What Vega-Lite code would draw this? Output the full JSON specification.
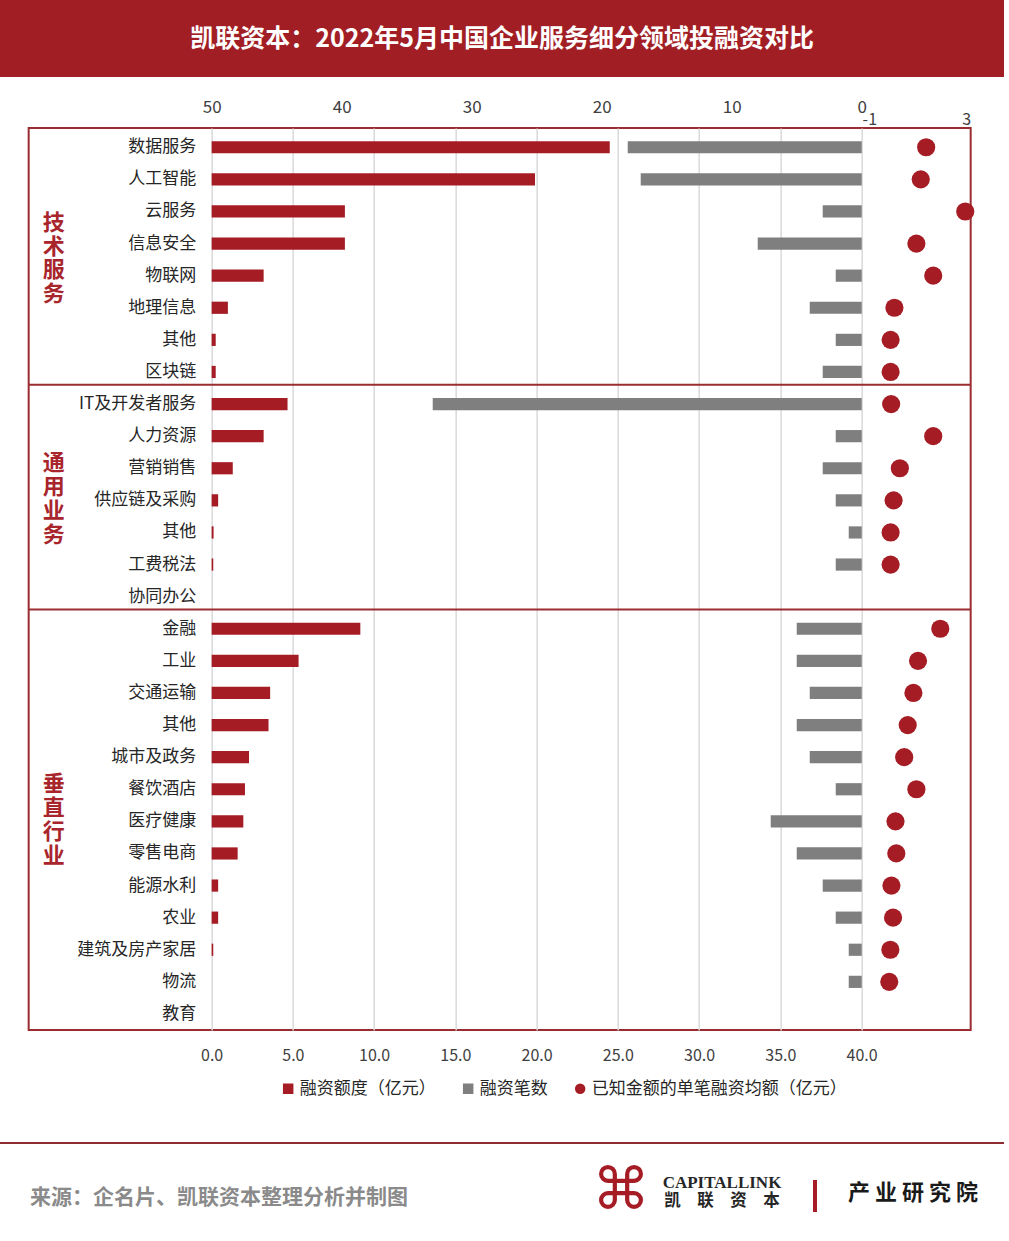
{
"$schema": "https://vega.github.io/schema/vega-lite/v6.json",
"padding": 0,
"background": "#ffffff",
"config": {"font": "Noto Sans CJK SC", "view": {"stroke": null}},
"spacing": 20,
"center": true,
"resolve": {"scale": {"color": "independent", "shape": "independent"}},
"vconcat": [
 {
  "width": 1004, "height": 77,
  "view": {"fill": "#a21e25", "stroke": null},
  "data": {"values": [{"t": "凯联资本：2022年5月中国企业服务细分领域投融资对比"}]},
  "mark": {"type": "text", "fontSize": 25, "fontWeight": "bold", "color": "#ffffff"},
  "encoding": {"text": {"field": "t"}}
 },
 {
  "spacing": 39,
  "center": true,
  "resolve": {"scale": {"color": "independent", "shape": "independent"}},
  "vconcat": [
   {
    "width": 942, "height": 902,
    "view": {"stroke": "#9b2d31", "strokeWidth": 2},
    "data": {"values": [
{"key":"数据服务","amt":24.5,"cnt":18,"avg":1.36},
{"key":"人工智能","amt":19.9,"cnt":17,"avg":1.16},
{"key":"云服务","amt":8.2,"cnt":3,"avg":2.8},
{"key":"信息安全","amt":8.2,"cnt":8,"avg":1.0},
{"key":"物联网","amt":3.2,"cnt":2,"avg":1.62},
{"key":"地理信息","amt":1.0,"cnt":4,"avg":0.19},
{"key":"其他#1","amt":0.25,"cnt":2,"avg":0.05},
{"key":"区块链","amt":0.25,"cnt":3,"avg":0.05},
{"key":"IT及开发者服务","amt":4.67,"cnt":33,"avg":0.07},
{"key":"人力资源","amt":3.2,"cnt":2,"avg":1.62},
{"key":"营销销售","amt":1.3,"cnt":3,"avg":0.39},
{"key":"供应链及采购","amt":0.4,"cnt":2,"avg":0.16},
{"key":"其他#2","amt":0.12,"cnt":1,"avg":0.05},
{"key":"工费税法","amt":0.1,"cnt":2,"avg":0.05},
{"key":"协同办公","amt":null,"cnt":null,"avg":null},
{"key":"金融","amt":9.15,"cnt":5,"avg":1.88},
{"key":"工业","amt":5.35,"cnt":5,"avg":1.06},
{"key":"交通运输","amt":3.6,"cnt":4,"avg":0.89},
{"key":"其他#3","amt":3.5,"cnt":5,"avg":0.68},
{"key":"城市及政务","amt":2.3,"cnt":4,"avg":0.55},
{"key":"餐饮酒店","amt":2.05,"cnt":2,"avg":1.0},
{"key":"医疗健康","amt":1.95,"cnt":7,"avg":0.23},
{"key":"零售电商","amt":1.6,"cnt":5,"avg":0.26},
{"key":"能源水利","amt":0.4,"cnt":3,"avg":0.08},
{"key":"农业","amt":0.4,"cnt":2,"avg":0.14},
{"key":"建筑及房产家居","amt":0.1,"cnt":1,"avg":0.04},
{"key":"物流","amt":0,"cnt":1,"avg":0.0},
{"key":"教育","amt":null,"cnt":null,"avg":null}
    ]},
    "encoding": {
     "y": {"field": "key", "type": "nominal", "sort": null,
       "scale": {"domain": ["数据服务","人工智能","云服务","信息安全","物联网","地理信息","其他#1","区块链","IT及开发者服务","人力资源","营销销售","供应链及采购","其他#2","工费税法","协同办公","金融","工业","交通运输","其他#3","城市及政务","餐饮酒店","医疗健康","零售电商","能源水利","农业","建筑及房产家居","物流","教育"], "paddingInner": 0, "paddingOuter": 0.05, "align": 1},
       "axis": {"orient": "left", "offset": -167, "labelPadding": 0, "ticks": false, "tickSize": 0, "domain": false, "grid": false, "title": null, "labelFontSize": 17, "labelColor": "#262626", "labelLimit": 300, "labelExpr": "split(datum.value, '#')[0]"}}
    },
    "layer": [
     {"layer": [
       {"mark": {"type": "bar", "height": {"band": 0.38}},
        "encoding": {
         "x": {"field": "amt", "type": "quantitative", "scale": {"domain": [-11.26, 46.71], "nice": false},
           "axis": {"orient": "bottom", "values": [0,5,10,15,20,25,30,35,40], "format": ".1f", "labelFontSize": 16, "labelColor": "#404040", "labelPadding": 17, "ticks": false, "domain": false, "grid": true, "gridColor": "#d9d9d9", "gridWidth": 1.5, "title": null}},
         "color": {"datum": "融资额度（亿元）", "type": "nominal",
           "scale": {"domain": ["融资额度（亿元）","融资笔数","已知金额的单笔融资均额（亿元）"], "range": ["#a51c24","#7f7f7f","#a51c24"]},
           "legend": {"orient": "none", "legendX": 251, "legendY": 952, "direction": "horizontal", "columns": 3, "title": null, "labelFontSize": 17, "labelColor": "#262626", "labelLimit": 400, "symbolSize": 110, "columnPadding": 24, "labelOffset": 3, "padding": 0, "symbolStrokeWidth": 0}}
        }},
       {"data": {"values": [{"key": "云服务", "s": "技\n术\n服\n务"}]},
        "mark": {"type": "text", "lineBreak": "\n", "fontSize": 22, "fontWeight": "bold", "color": "#a8252c", "lineHeight": 23.5, "align": "center", "baseline": "middle"},
        "encoding": {
         "y": {"field": "key", "type": "nominal", "sort": null, "bandPosition": 0.86,
           "scale": {"domain": ["数据服务","人工智能","云服务","信息安全","物联网","地理信息","其他#1","区块链","IT及开发者服务","人力资源","营销销售","供应链及采购","其他#2","工费税法","协同办公","金融","工业","交通运输","其他#3","城市及政务","餐饮酒店","医疗健康","零售电商","能源水利","农业","建筑及房产家居","物流","教育"], "paddingInner": 0, "paddingOuter": 0.05, "align": 1},
           "axis": {"orient": "left", "offset": -167, "labelPadding": 0, "ticks": false, "tickSize": 0, "domain": false, "grid": false, "title": null, "labelFontSize": 17, "labelColor": "#262626", "labelLimit": 300, "labelExpr": "split(datum.value, '#')[0]"}},
         "x": {"datum": -9.72, "type": "quantitative", "scale": {"domain": [-11.26, 46.71], "nice": false},
           "axis": {"orient": "bottom", "values": [0,5,10,15,20,25,30,35,40], "format": ".1f", "labelFontSize": 16, "labelColor": "#404040", "labelPadding": 17, "ticks": false, "domain": false, "grid": true, "gridColor": "#d9d9d9", "gridWidth": 1.5, "title": null}},
         "text": {"field": "s"}
        }},
       {"data": {"values": [{"key": "营销销售", "s": "通\n用\n业\n务"}, {"key": "餐饮酒店", "s": "垂\n直\n行\n业"}]},
        "mark": {"type": "text", "lineBreak": "\n", "fontSize": 22, "fontWeight": "bold", "color": "#a8252c", "lineHeight": 23.8, "align": "center", "baseline": "middle"},
        "encoding": {
         "y": {"field": "key", "type": "nominal", "sort": null, "bandPosition": 0.35,
           "scale": {"domain": ["数据服务","人工智能","云服务","信息安全","物联网","地理信息","其他#1","区块链","IT及开发者服务","人力资源","营销销售","供应链及采购","其他#2","工费税法","协同办公","金融","工业","交通运输","其他#3","城市及政务","餐饮酒店","医疗健康","零售电商","能源水利","农业","建筑及房产家居","物流","教育"], "paddingInner": 0, "paddingOuter": 0.05, "align": 1},
           "axis": {"orient": "left", "offset": -167, "labelPadding": 0, "ticks": false, "tickSize": 0, "domain": false, "grid": false, "title": null, "labelFontSize": 17, "labelColor": "#262626", "labelLimit": 300, "labelExpr": "split(datum.value, '#')[0]"}},
         "x": {"datum": -9.72, "type": "quantitative", "scale": {"domain": [-11.26, 46.71], "nice": false},
           "axis": {"orient": "bottom", "values": [0,5,10,15,20,25,30,35,40], "format": ".1f", "labelFontSize": 16, "labelColor": "#404040", "labelPadding": 17, "ticks": false, "domain": false, "grid": true, "gridColor": "#d9d9d9", "gridWidth": 1.5, "title": null}},
         "text": {"field": "s"}
        }}
     ]},
     {"mark": {"type": "bar", "height": {"band": 0.38}},
      "encoding": {
       "x": {"field": "cnt", "type": "quantitative", "scale": {"domain": [-8.38, 64.08], "reverse": true, "nice": false},
         "axis": {"orient": "top", "values": [0,10,20,30,40,50], "labelFontSize": 17, "labelColor": "#404040", "labelPadding": 12, "ticks": false, "domain": false, "grid": false, "title": null}},
       "color": {"datum": "融资笔数", "type": "nominal"}
      }},
     {"mark": {"type": "point", "filled": true, "size": 330, "opacity": 1},
      "encoding": {
       "x": {"field": "avg", "type": "quantitative", "scale": {"domain": [-31.71, 3], "nice": false},
         "axis": {"orient": "top", "values": [-1, 3], "labelExpr": "datum.value < 0 ? '-' + abs(datum.value) : '' + datum.value", "labelAlign": {"condition": {"test": "datum.value < 0", "value": "left"}, "value": "right"}, "labelFontSize": 16, "labelColor": "#404040", "labelPadding": 1, "ticks": false, "domain": false, "grid": false, "title": null}},
       "color": {"datum": "已知金额的单笔融资均额（亿元）", "type": "nominal"},
       "shape": {"datum": "已知金额的单笔融资均额（亿元）", "type": "nominal",
         "scale": {"domain": ["融资额度（亿元）","融资笔数","已知金额的单笔融资均额（亿元）"], "range": ["square","square","circle"]},
         "legend": {"orient": "none", "legendX": 251, "legendY": 952, "direction": "horizontal", "columns": 3, "title": null, "labelFontSize": 17, "labelColor": "#262626", "labelLimit": 400, "symbolSize": 110, "columnPadding": 24, "labelOffset": 3, "padding": 0, "symbolStrokeWidth": 0}}
      }},
     {"data": {"values": [{"key": "区块链"}, {"key": "协同办公"}]},
      "mark": {"type": "rule", "color": "#9b2d31", "strokeWidth": 2},
      "encoding": {
       "y": {"field": "key", "type": "nominal", "sort": null, "bandPosition": 0.9,
         "scale": {"domain": ["数据服务","人工智能","云服务","信息安全","物联网","地理信息","其他#1","区块链","IT及开发者服务","人力资源","营销销售","供应链及采购","其他#2","工费税法","协同办公","金融","工业","交通运输","其他#3","城市及政务","餐饮酒店","医疗健康","零售电商","能源水利","农业","建筑及房产家居","物流","教育"], "paddingInner": 0, "paddingOuter": 0.05, "align": 1},
         "axis": {"orient": "left", "offset": -167, "labelPadding": 0, "ticks": false, "tickSize": 0, "domain": false, "grid": false, "title": null, "labelFontSize": 17, "labelColor": "#262626", "labelLimit": 300, "labelExpr": "split(datum.value, '#')[0]"}}
      }}
    ],
    "resolve": {"scale": {"x": "independent"}, "axis": {"x": "independent"}}
   },
   {
    "spacing": 0,
    "center": true,
    "vconcat": [
     {"width": 1004, "height": 2, "view": {"fill": "#8e2a30", "stroke": null},
      "data": {"values": [{}]}, "mark": "text", "encoding": {"text": {"value": ""}}},
     {"spacing": 0, "bounds": "flush", "center": true,
      "hconcat": [
       {"width": 438, "height": 96, "data": {"values": [{"t": "来源：企名片、凯联资本整理分析并制图"}]},
        "mark": {"type": "text", "fontSize": 21, "fontWeight": "bold", "color": "#8a8a8a", "dy": 2}, "encoding": {"text": {"field": "t"}}},
       {"width": 157, "height": 96, "data": {"values": [{}]}, "mark": "text", "encoding": {"text": {"value": ""}}},
       {"width": 52, "height": 96, "data": {"values": [{"t": "⌘"}]},
        "mark": {"type": "text", "fontSize": 58, "font": "DejaVu Sans", "color": "#a51c24", "dy": -4}, "encoding": {"text": {"field": "t"}}},
       {"width": 15, "height": 96, "data": {"values": [{}]}, "mark": "text", "encoding": {"text": {"value": ""}}},
       {"width": 120, "height": 96, "data": {"values": [{"a": "CAPITALLINK", "b": "凯　联　资　本"}]},
        "layer": [
         {"mark": {"type": "text", "baseline": "bottom", "dy": -4, "font": "Liberation Serif", "fontWeight": "bold", "fontSize": 17, "color": "#262626"}, "encoding": {"text": {"field": "a"}}},
         {"mark": {"type": "text", "baseline": "top", "dy": -3, "fontWeight": "bold", "fontSize": 16.5, "color": "#262626"}, "encoding": {"text": {"field": "b"}}}
        ]},
       {"width": 31, "height": 96, "data": {"values": [{}]}, "mark": "text", "encoding": {"text": {"value": ""}}},
       {"width": 4, "height": 32, "view": {"fill": "#a51c24", "stroke": null}, "data": {"values": [{}]}, "mark": "text", "encoding": {"text": {"value": ""}}},
       {"width": 27, "height": 96, "data": {"values": [{}]}, "mark": "text", "encoding": {"text": {"value": ""}}},
       {"width": 138, "height": 96, "data": {"values": [{"t": "产 业 研 究 院"}]},
        "mark": {"type": "text", "fontSize": 22, "fontWeight": "bold", "color": "#1a1a1a", "dy": -3}, "encoding": {"text": {"field": "t"}}},
       {"width": 22, "height": 96, "data": {"values": [{}]}, "mark": "text", "encoding": {"text": {"value": ""}}}
      ]}
    ]
   }
  ]
 }
]
}
